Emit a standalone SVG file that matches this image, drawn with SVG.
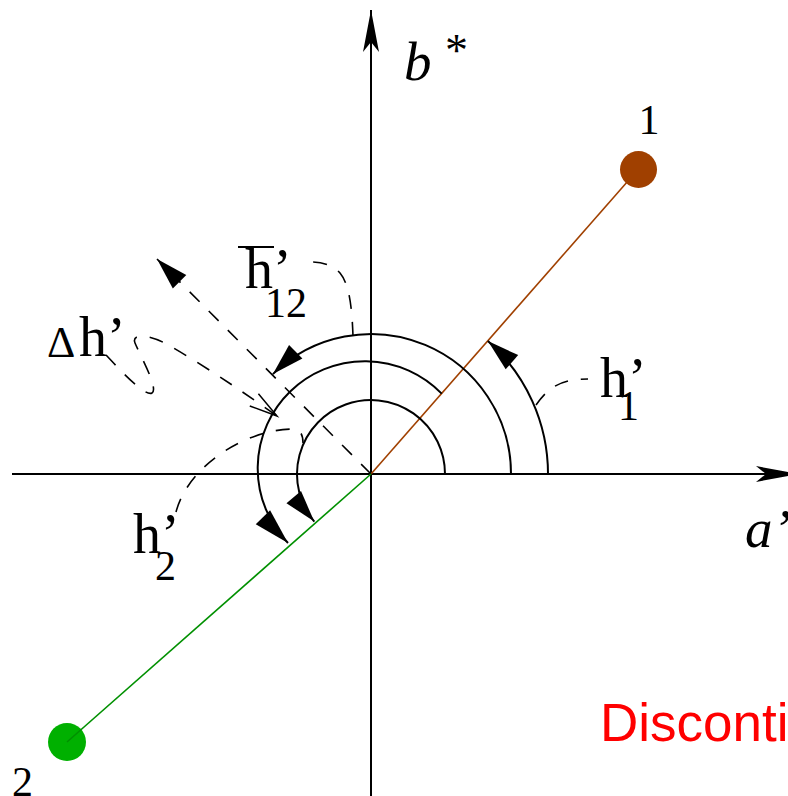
<svg xmlns="http://www.w3.org/2000/svg" width="788" height="796" viewBox="0 0 788 796">
<style>
.ax{stroke:#000;stroke-width:2;fill:none}
.arc{stroke:#000;stroke-width:2;fill:none}
.dash{stroke:#000;stroke-width:1.6;fill:none;stroke-dasharray:14 13}
.serif{font-family:"Liberation Serif","Times New Roman",serif;fill:#000}
.big{font-size:56px}
.sub{font-size:42px}
.it{font-style:italic;font-size:55px}
.red{font-family:"Liberation Sans",Arial,sans-serif;font-size:53px;fill:#ff0000}
</style>
<defs>
<marker id="fa" markerUnits="userSpaceOnUse" markerWidth="34" markerHeight="20" refX="32" refY="9.5" orient="auto" overflow="visible"><path d="M0,0 L32,9.5 L0,19 Z" fill="#000"/></marker>
<marker id="fb" markerUnits="userSpaceOnUse" markerWidth="38" markerHeight="22" refX="36" refY="10" orient="auto" overflow="visible"><path d="M0,0 L36,10 L0,20 Z" fill="#000"/></marker>
<marker id="oa" markerUnits="userSpaceOnUse" markerWidth="30" markerHeight="16" refX="28" refY="7.5" orient="auto" overflow="visible"><path d="M0,0 L28,7.5 L0,15" fill="none" stroke="#000" stroke-width="1.5"/></marker>
<marker id="axa" markerUnits="userSpaceOnUse" markerWidth="44" markerHeight="18" refX="42" refY="8" orient="auto" overflow="visible"><path d="M0,0 L42,8 L0,16 L10,8 Z" fill="#000"/></marker>
</defs>
<rect width="788" height="796" fill="#fff"/>
<g id="axes">
<path class="ax" d="M12,474 L798,474" marker-end="url(#axa)"/>
<path class="ax" d="M371,796 L371,10" marker-end="url(#axa)"/>
</g>
<g id="connectors">
<path d="M371,474 L628,181" stroke="#a04000" stroke-width="1.6" fill="none"/>
<path class="arc" d="M548,474 A177,177 0 0 0 487.9,341.1" marker-end="url(#fa)"/>
<path class="arc" d="M511,474 A140,140 0 0 0 272.9,374.1" marker-end="url(#fa)"/>
<path class="arc" d="M441.7,393.6 A107,107 0 0 0 288,543" marker-end="url(#fb)"/>
<path class="arc" d="M445,474 A74,74 0 1 0 314.3,521.6" marker-end="url(#fa)"/>
<path class="dash" d="M371,474 L157,259" marker-end="url(#fa)"/>
<path class="dash" d="M353,336 C352,310 350,285 340,273 C333,265 322,262 312,262"/>
<path class="dash" d="M536,405 C548,388 560,379 588,379"/>
<path class="dash" d="M176,512 C188,466 245,430 292,429 C300,429 303,434 303,443"/>
<path class="dash" d="M106,355 C120,370 145,397 152,393 C159,389 140,355 135,343 C131,333 150,334 170,346 C210,369 250,397 277,416" marker-end="url(#oa)"/>
</g>
<g id="point1">
<circle cx="638.5" cy="169.5" r="18.5" fill="#a04000"/>
<text class="serif sub" x="649" y="134" text-anchor="middle">1</text>
</g>
<g id="point2">
<circle cx="67" cy="742" r="19" fill="#00b000"/>
<path d="M371,474 L67,742" stroke="#009000" stroke-width="1.6" fill="none"/>
<text class="serif sub" x="12" y="796">2</text>
</g>
<g id="labels">
<text class="serif it" x="404" y="80">b</text>
<text class="serif" x="445" y="66" font-size="46">*</text>
<text class="serif it" x="745" y="547">a’</text>
<g id="hbar12">
<line x1="238" y1="247" x2="274" y2="247" stroke="#000" stroke-width="2"/>
<text class="serif big" x="245" y="288">h’</text>
<text class="serif sub" x="265" y="317">12</text>
</g>
<g id="dh">
<text class="serif" x="47" y="357" font-size="44">Δ</text>
<text class="serif big" x="79" y="356">h’</text>
</g>
<g id="h1">
<text class="serif big" x="600" y="397">h’</text>
<text class="serif sub" x="618" y="420">1</text>
</g>
<g id="h2">
<text class="serif big" x="133" y="553">h’</text>
<text class="serif sub" x="155" y="580">2</text>
</g>
<text class="red" x="600" y="741">Disconti</text>
</g>
</svg>
